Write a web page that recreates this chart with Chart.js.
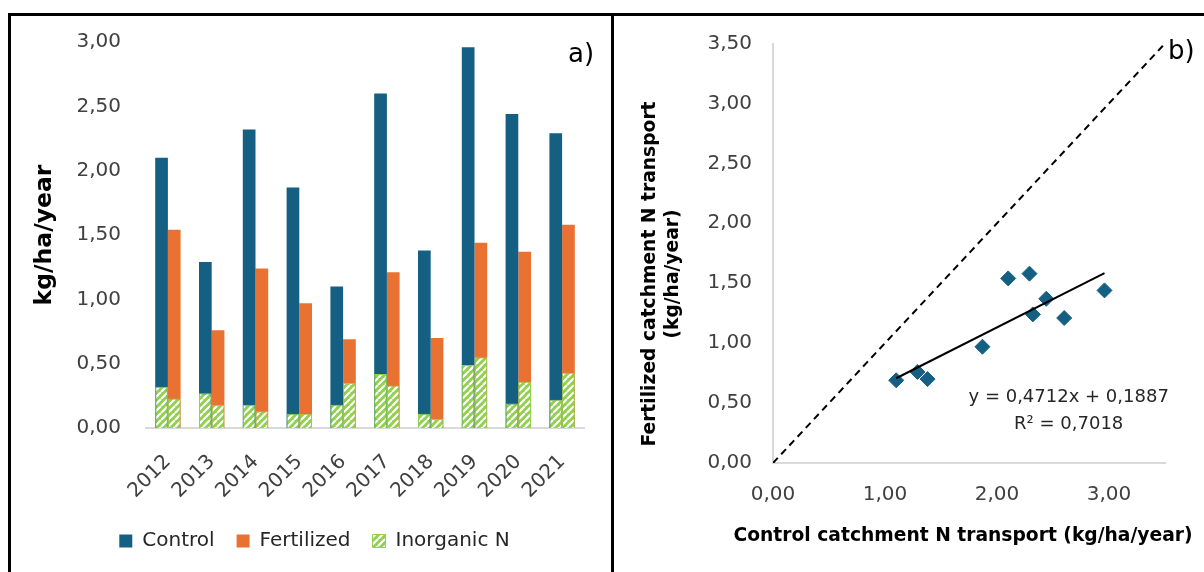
<!DOCTYPE html>
<html>
<head>
<meta charset="utf-8">
<script src="https://cdn.jsdelivr.net/npm/chart.js@4.4.1/dist/chart.umd.min.js"></script>
<style>
  html, body { margin: 0; padding: 0; background: #fff; }
  #wrap { position: relative; width: 1204px; height: 572px; overflow: hidden; background: #fff; }
  #barBox { position: absolute; left: 0; top: 0; width: 611px; height: 572px; }
  #xyBox { position: absolute; left: 614px; top: 0; width: 590px; height: 572px; }
  .rule { position: absolute; background: #000; }
</style>
</head>
<body>
<div id="wrap">
  <div id="barBox"><canvas id="bars"></canvas></div>
  <div id="xyBox"><canvas id="xy"></canvas></div>
  <div class="rule" style="left:8px;top:13px;width:1196px;height:3px"></div>
  <div class="rule" style="left:8px;top:13px;width:3px;height:559px"></div>
  <div class="rule" style="left:611px;top:13px;width:3px;height:559px"></div>
</div>
<script>
// ---- yearly N transport, kg/ha/year ----
const years = ['2012', '2013', '2014', '2015', '2016', '2017', '2018', '2019', '2020', '2021'];
const controlN = [2.10, 1.29, 2.32, 1.87, 1.10, 2.60, 1.38, 2.96, 2.44, 2.29];
const fertilizedN = [1.54, 0.76, 1.24, 0.97, 0.69, 1.21, 0.70, 1.44, 1.37, 1.58];
const inorganicControl = [0.32, 0.27, 0.18, 0.11, 0.18, 0.42, 0.11, 0.49, 0.19, 0.22];
const inorganicFertilized = [0.23, 0.18, 0.13, 0.11, 0.35, 0.33, 0.07, 0.55, 0.36, 0.43];

// ---- axis ticks ----
const barTicksY = [0, 0.5, 1.0, 1.5, 2.0, 2.5, 3.0];
const xyTicksX = [0, 1, 2, 3];
const xyTicksY = [0, 0.5, 1.0, 1.5, 2.0, 2.5, 3.0, 3.5];

// ---- linear fit of fertilized vs control ----
const trendSlope = 0.4712;
const trendIntercept = 0.1887;
const trendR2 = 0.7018;

const SANS = '"DejaVu Sans", Verdana, sans-serif';
const INK = '#404040';
const TICK_FONT = { family: SANS, size: 20 };
const fmt = v => v.toFixed(2).replace('.', ',');
const fmt4 = v => v.toFixed(4).replace('.', ',');

// diagonal white stripes on light green
function makeHatch() {
  const s = 7;
  const c = document.createElement('canvas');
  c.width = s; c.height = s;
  const g = c.getContext('2d');
  g.fillStyle = '#92D050';
  g.fillRect(0, 0, s, s);
  g.strokeStyle = '#ffffff';
  g.lineWidth = 2.2;
  g.beginPath();
  for (const o of [-s, 0, s]) { g.moveTo(o, s); g.lineTo(o + s, 0); }
  g.stroke();
  return g.createPattern(c, 'repeat');
}
const hatch = makeHatch();

// panel letter in the top-right corner
const panelTag = {
  id: 'panelTag',
  afterDraw(chart, args, o) {
    const ctx = chart.ctx;
    ctx.save();
    ctx.font = '26px ' + SANS;
    ctx.fillStyle = '#000';
    ctx.textAlign = 'left';
    ctx.textBaseline = 'middle';
    ctx.fillText(o.text, o.x, o.y);
    ctx.restore();
  }
};

// regression label and the axis captions of the scatter panel
const xyNotes = {
  id: 'xyNotes',
  afterDraw(chart, args, o) {
    const { ctx, scales, chartArea } = chart;
    ctx.save();
    ctx.fillStyle = '#262626';
    ctx.font = '18px ' + SANS;
    ctx.textAlign = 'center';
    ctx.textBaseline = 'middle';
    const ex = scales.x.getPixelForValue(o.eqX);
    const ey = scales.y.getPixelForValue(o.eqY);
    ctx.fillText('y = ' + fmt4(trendSlope) + 'x + ' + fmt4(trendIntercept), ex, ey);
    ctx.fillText('R² = ' + fmt4(trendR2), ex, ey + 27);

    ctx.fillStyle = '#000';
    ctx.font = 'bold 18.7px ' + SANS;
    ctx.fillText(o.xTitle, (chartArea.left + chartArea.right) / 2 - 6, o.xTitleY);
    ctx.translate(o.yTitleX, o.yTitleY);
    ctx.rotate(-Math.PI / 2);
    o.yTitle.forEach((line, i) => ctx.fillText(line, 0, i * 23));
    ctx.restore();
  }
};

// ---- panel a: bars ----
// Inorganic N shares a slot with its parent series (same stack id) and is drawn on top of it;
// values are not summed because the value axis is not stacked.
new Chart(document.getElementById('bars'), {
  type: 'bar',
  data: {
    labels: years,
    datasets: [
      { label: 'Control', data: controlN, backgroundColor: '#156082', borderWidth: 0, order: 2, stack: 'control' },
      { label: 'Fertilized', data: fertilizedN, backgroundColor: '#E97132', borderWidth: 0, order: 2, stack: 'fertilized' },
      { label: 'Inorganic N', data: inorganicControl, backgroundColor: hatch, borderColor: '#92D050', borderWidth: 1, order: 1, stack: 'control' },
      { label: 'Inorganic N', data: inorganicFertilized, backgroundColor: hatch, borderColor: '#92D050', borderWidth: 1, order: 1, stack: 'fertilized' }
    ]
  },
  options: {
    responsive: true,
    maintainAspectRatio: false,
    animation: false,
    datasets: { bar: { categoryPercentage: 0.58, barPercentage: 1.0 } },
    layout: { padding: { left: 45, right: 27, top: 42, bottom: 11 } },
    plugins: {
      legend: {
        position: 'bottom',
        labels: {
          boxWidth: 13, boxHeight: 13, padding: 22, color: '#262626',
          font: { family: SANS, size: 20 },
          filter: item => item.datasetIndex !== 3,
          sort: (a, b) => a.datasetIndex - b.datasetIndex
        }
      },
      tooltip: { enabled: false },
      panelTag: { text: 'a)', x: 568, y: 55 }
    },
    scales: {
      x: {
        type: 'category',
        stacked: true,
        offset: true,
        grid: { display: true, drawOnChartArea: false, drawTicks: false },
        border: { display: true, color: '#d9d9d9', width: 2 },
        ticks: { minRotation: 45, maxRotation: 45, padding: 22, color: INK, font: TICK_FONT },
        afterFit: s => { s.height = 81; }
      },
      y: {
        min: 0, max: 3,
        stacked: false,
        grid: { display: false },
        border: { display: false },
        afterBuildTicks: s => { s.ticks = barTicksY.map(v => ({ value: v })); },
        ticks: { padding: 17, color: INK, font: TICK_FONT, callback: v => fmt(v) },
        title: {
          display: true, text: 'kg/ha/year', color: '#000',
          font: { family: SANS, size: 23.5, weight: 'bold' },
          padding: { top: -14.1, bottom: 0 }
        },
        afterFit: s => { s.width = 101; }
      }
    }
  },
  plugins: [panelTag]
});

// ---- panel b: fertilized vs control ----
const pairs = controlN.map((c, i) => ({ x: c, y: fertilizedN[i] }));
const xMin = Math.min(...controlN);
const xMax = Math.max(...controlN);
const trendLine = [
  { x: xMin, y: trendSlope * xMin + trendIntercept },
  { x: xMax, y: trendSlope * xMax + trendIntercept }
];
const oneToOne = [{ x: 0, y: 0 }, { x: 3.5, y: 3.5 }];

new Chart(document.getElementById('xy'), {
  type: 'scatter',
  data: {
    datasets: [
      { type: 'line', data: trendLine, borderColor: '#000', borderWidth: 2, pointRadius: 0, fill: false },
      { type: 'line', data: oneToOne, borderColor: '#000', borderWidth: 2, borderDash: [7, 5], pointRadius: 0, fill: false },
      { data: pairs, pointStyle: 'rectRot', pointRadius: 7.5, backgroundColor: '#156082', borderColor: '#156082', borderWidth: 1 }
    ]
  },
  options: {
    responsive: true,
    maintainAspectRatio: false,
    animation: false,
    layout: { padding: { left: 10, right: 39, top: 43.5, bottom: 20 } },
    plugins: {
      legend: { display: false },
      tooltip: { enabled: false },
      panelTag: { text: 'b)', x: 554, y: 52 },
      xyNotes: {
        eqX: 2.64, eqY: 0.55,
        xTitle: 'Control catchment N transport (kg/ha/year)',
        xTitleY: 536,
        yTitle: ['Fertilized catchment N transport', '(kg/ha/year)'],
        yTitleX: 36, yTitleY: 274
      }
    },
    scales: {
      x: {
        type: 'linear', min: 0, max: 3.5,
        grid: { display: true, drawOnChartArea: false, drawTicks: false },
        border: { display: true, color: '#d9d9d9', width: 2 },
        afterBuildTicks: s => { s.ticks = xyTicksX.map(v => ({ value: v })); },
        ticks: { padding: 19.5, color: INK, font: TICK_FONT, callback: v => fmt(v) },
        afterFit: s => { s.height = 89; }
      },
      y: {
        type: 'linear', min: 0, max: 3.5,
        grid: { display: true, drawOnChartArea: false, drawTicks: false },
        border: { display: true, color: '#d9d9d9', width: 2 },
        afterBuildTicks: s => { s.ticks = xyTicksY.map(v => ({ value: v })); },
        ticks: { padding: 21, color: INK, font: TICK_FONT, callback: v => fmt(v) },
        afterFit: s => { s.width = 149; }
      }
    }
  },
  plugins: [panelTag, xyNotes]
});
</script>
</body>
</html>
